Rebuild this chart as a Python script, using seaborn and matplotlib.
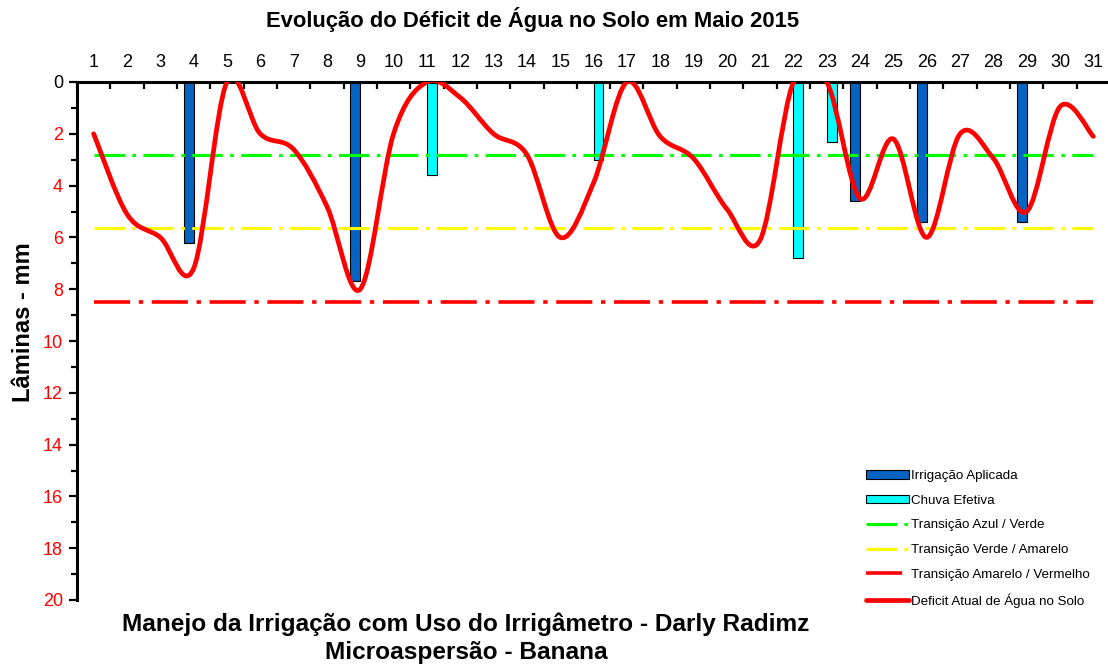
import numpy as np
import pandas as pd
import seaborn as sns
from matplotlib import pyplot as plt
from matplotlib.path import Path
from matplotlib.patches import PathPatch, Patch
from matplotlib.lines import Line2D

days = list(range(1, 32))
deficit = [2.0, 5.1, 6.0, 7.2, 0.0, 2.0, 2.6, 4.8, 8.0, 2.0,
           0.0, 0.6, 2.0, 2.8, 6.0, 3.9, 0.0, 2.1, 2.95, 4.9,
           6.1, 0.0, 0.0, 4.5, 2.2, 6.0, 2.0, 2.95, 5.0, 0.95, 2.1]
irrig_days = [4, 9, 24, 26, 29]
irrig_mm = [6.2, 7.7, 4.6, 5.4, 5.4]
rain_days = [11, 16, 22, 23]
rain_mm = [3.6, 3.0, 6.8, 2.3]
limits = {
    'Transição Azul / Verde': (2.8, '#00ff00', 2.2),
    'Transição Verde / Amarelo': (5.65, '#ffff00', 2.2),
    'Transição Amarelo / Vermelho': (8.5, '#ff0000', 2.6),
}

BLUE = '#0563c1'
CYAN = '#00ffff'
RED = '#ff0000'
FONT = ['Liberation Sans', 'DejaVu Sans']


def smooth_path(xs, ys):
    # excel-like smoothed line: bezier through every point
    pts = np.column_stack([xs, ys]).astype(float)
    ext = np.vstack([pts[0], pts, pts[-1]])
    verts = [pts[0]]
    codes = [Path.MOVETO]
    for i in range(len(pts) - 1):
        p0, p1, p2, p3 = ext[i], ext[i + 1], ext[i + 2], ext[i + 3]
        verts += [p1 + (p2 - p0) / 6, p2 - (p3 - p1) / 6, p2]
        codes += [Path.CURVE4] * 3
    return Path(verts, codes)


def main():
    sns.set_style('white')
    plt.rcParams['font.family'] = FONT
    plt.rcParams['text.color'] = 'black'
    plt.rcParams['xtick.color'] = 'black'
    plt.rcParams['ytick.color'] = 'black'

    fig = plt.figure(figsize=(11.08, 6.64), dpi=100)
    ax = fig.add_axes([77 / 1108, 1 - 600 / 664, 1033 / 1108, 518 / 664])

    bars = pd.DataFrame({
        'dia': irrig_days + rain_days,
        'mm': irrig_mm + rain_mm,
        'serie': ['Irrigação Aplicada'] * len(irrig_days)
                 + ['Chuva Efetiva'] * len(rain_days),
    })
    sns.barplot(
        data=bars, x='dia', y='mm', hue='serie', order=days,
        hue_order=['Irrigação Aplicada', 'Chuva Efetiva'],
        palette=[BLUE, CYAN], saturation=1, width=0.6, dodge=True,
        edgecolor='black', linewidth=0.8, errorbar=None, legend=False, ax=ax,
    )

    pos = np.arange(len(days))
    for name, (level, color, lw) in limits.items():
        ax.hlines(level, pos[0], pos[-1], color=color, lw=lw,
                  linestyles=[(0, (10, 2.4, 1.2, 2.4))], zorder=3)

    ax.add_patch(PathPatch(smooth_path(pos, deficit), fill=False,
                           edgecolor=RED, lw=3.4, zorder=4,
                           capstyle='round', joinstyle='round'))

    ax.set_xlim(-0.5, len(days) - 0.5)
    ax.set_ylim(20, 0)
    ax.xaxis.tick_top()
    ax.set_xticks(pos)
    ax.set_xticklabels(days)
    ax.set_xticks(np.arange(len(days) + 1) - 0.5, minor=True)
    ax.tick_params(axis='x', which='major', length=0, pad=8, labelsize=13)
    ax.tick_params(axis='x', which='minor', direction='in', length=5,
                   width=1.6, top=True, bottom=False)
    ax.set_yticks(range(0, 21, 2))
    ax.set_yticks(range(1, 21, 2), minor=True)
    ax.tick_params(axis='y', which='major', direction='out', length=6,
                   width=1.6, left=True, labelsize=13, pad=4)
    ax.tick_params(axis='y', which='minor', direction='out', length=4,
                   width=1.6, left=True)
    for lab in ax.get_yticklabels():
        lab.set_color('black' if lab.get_text() == '0' else RED)
    ax.set_xlabel('')
    ax.set_ylabel('')
    for side in ['right', 'bottom']:
        ax.spines[side].set_visible(False)
    for side in ['top', 'left']:
        ax.spines[side].set_linewidth(2.2)
        ax.spines[side].set_color('black')

    handles = [
        Patch(facecolor=BLUE, edgecolor='black', lw=0.8, label='Irrigação Aplicada'),
        Patch(facecolor=CYAN, edgecolor='black', lw=0.8, label='Chuva Efetiva'),
    ]
    for name, (level, color, lw) in limits.items():
        handles.append(Line2D([], [], color=color, lw=lw,
                              ls=(0, (10, 2.4, 1.2, 2.4)), label=name))
    handles.append(Line2D([], [], color=RED, lw=3.4,
                          label='Deficit Atual de Água no Solo'))
    fig.legend(handles=handles, loc='upper left',
               bbox_to_anchor=(866 / 1108, 1 - 470 / 664), frameon=False,
               fontsize=9.6, handlelength=3.2, handleheight=0.6,
               handletextpad=0.2, labelspacing=0.95, borderpad=0,
               borderaxespad=0)

    fig.text(24 / 1108, 1 - 322 / 664, 'Lâminas - mm', rotation=90,
             ha='center', va='center', fontsize=17, fontweight='bold')
    fig.text(533 / 1108, 1 - 20 / 664,
             'Evolução do Déficit de Água no Solo em Maio 2015',
             ha='center', va='center', fontsize=15.8, fontweight='bold')
    fig.text(466 / 1108, 1 - 624 / 664,
             'Manejo da Irrigação com Uso do Irrigâmetro - Darly Radimz',
             ha='center', va='center', fontsize=17.6, fontweight='bold')
    fig.text(466 / 1108, 1 - 652 / 664, 'Microaspersão - Banana',
             ha='center', va='center', fontsize=17.6, fontweight='bold')

    fig.savefig('out.png', dpi=100)
    plt.close(fig)


if __name__ == '__main__':
    main()
